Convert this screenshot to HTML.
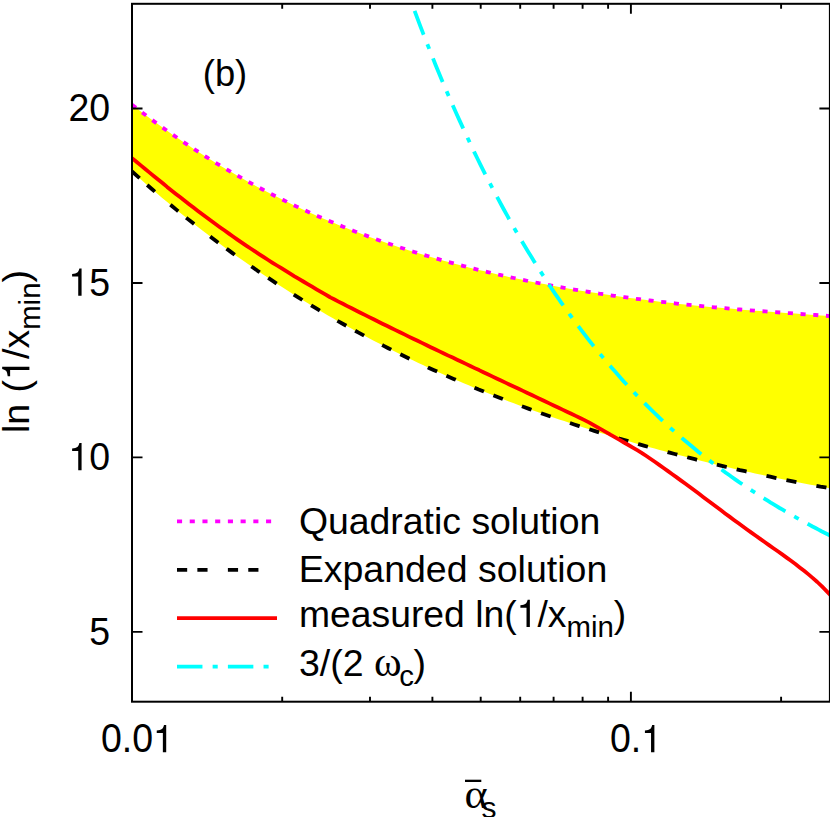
<!DOCTYPE html>
<html><head><meta charset="utf-8"><title>plot</title>
<style>
html,body{margin:0;padding:0;background:#fff;}
svg{display:block}
text{font-family:"Liberation Sans",sans-serif;font-size:37.5px;fill:#000}
.sub{font-size:29.4px}
.sym{font-family:"Liberation Serif",serif}
.one{fill:none}
</style></head><body>
<svg width="830" height="817" viewBox="0 0 830 817">
<rect width="830" height="817" fill="#fff"/>
<defs><clipPath id="cp"><rect x="132" y="3.8" width="697.9" height="697.9"/></clipPath></defs>
<g clip-path="url(#cp)" fill="none" stroke-linecap="butt" stroke-linejoin="round">
<path d="M132.0,104.8 L137.0,108.6 L142.1,112.5 L147.1,116.2 L152.1,120.0 L157.1,123.6 L162.2,127.3 L167.2,130.8 L172.2,134.4 L177.2,137.8 L182.3,141.3 L187.3,144.6 L192.3,148.0 L197.3,151.2 L202.4,154.5 L207.4,157.7 L212.4,160.8 L217.4,163.9 L222.5,166.9 L227.5,169.9 L232.5,172.8 L237.5,175.7 L242.6,178.6 L247.6,181.4 L252.6,184.2 L257.6,186.9 L262.7,189.5 L267.7,192.2 L272.7,194.8 L277.7,197.3 L282.8,199.8 L287.8,202.3 L292.8,204.7 L297.8,207.1 L302.9,209.4 L307.9,211.7 L312.9,214.0 L317.9,216.2 L323.0,218.4 L328.0,220.5 L333.0,222.6 L338.0,224.7 L343.1,226.7 L348.1,228.7 L353.1,230.7 L358.1,232.6 L363.2,234.5 L368.2,236.4 L373.2,238.2 L378.2,240.0 L383.3,241.8 L388.3,243.5 L393.3,245.2 L398.3,246.9 L403.4,248.5 L408.4,250.2 L413.4,251.7 L418.4,253.3 L423.5,254.8 L428.5,256.3 L433.5,257.8 L438.5,259.2 L443.6,260.7 L448.6,262.1 L453.6,263.4 L458.6,264.8 L463.7,266.1 L468.7,267.4 L473.7,268.7 L478.7,269.9 L483.8,271.1 L488.8,272.3 L493.8,273.5 L498.8,274.7 L503.9,275.8 L508.9,276.9 L513.9,278.0 L518.9,279.1 L524.0,280.1 L529.0,281.2 L534.0,282.2 L539.0,283.2 L544.1,284.1 L549.1,285.1 L554.1,286.0 L559.1,286.9 L564.2,287.8 L569.2,288.7 L574.2,289.6 L579.2,290.4 L584.3,291.2 L589.3,292.0 L594.3,292.8 L599.3,293.6 L604.4,294.3 L609.4,295.1 L614.4,295.8 L619.4,296.5 L624.5,297.2 L629.5,297.9 L634.5,298.6 L639.5,299.2 L644.6,299.8 L649.6,300.5 L654.6,301.1 L659.6,301.7 L664.7,302.2 L669.7,302.8 L674.7,303.3 L679.7,303.9 L684.8,304.4 L689.8,304.9 L694.8,305.4 L699.8,305.9 L704.9,306.4 L709.9,306.9 L714.9,307.3 L719.9,307.8 L725.0,308.2 L730.0,308.6 L735.0,309.1 L740.0,309.5 L745.1,309.9 L750.1,310.3 L755.1,310.7 L760.1,311.1 L765.2,311.4 L770.2,311.8 L775.2,312.2 L780.2,312.5 L785.3,312.9 L790.3,313.2 L795.3,313.6 L800.3,314.0 L805.4,314.3 L810.4,314.7 L815.4,315.0 L820.4,315.4 L825.5,315.7 L830.5,316.1 L830.5,488.3 L825.5,487.4 L820.4,486.6 L815.4,485.6 L810.4,484.7 L805.4,483.8 L800.3,482.8 L795.3,481.8 L790.3,480.8 L785.3,479.8 L780.2,478.8 L775.2,477.8 L770.2,476.7 L765.2,475.6 L760.1,474.5 L755.1,473.4 L750.1,472.3 L745.1,471.2 L740.0,470.1 L735.0,468.9 L730.0,467.7 L725.0,466.6 L719.9,465.4 L714.9,464.2 L709.9,462.9 L704.9,461.7 L699.8,460.5 L694.8,459.2 L689.8,457.9 L684.8,456.6 L679.7,455.3 L674.7,454.0 L669.7,452.7 L664.7,451.3 L659.6,450.0 L654.6,448.6 L649.6,447.2 L644.6,445.8 L639.5,444.4 L634.5,443.0 L629.5,441.5 L624.5,440.0 L619.4,438.6 L614.4,437.1 L609.4,435.6 L604.4,434.0 L599.3,432.5 L594.3,430.9 L589.3,429.3 L584.3,427.7 L579.2,426.1 L574.2,424.5 L569.2,422.8 L564.2,421.1 L559.1,419.5 L554.1,417.7 L549.1,416.0 L544.1,414.3 L539.0,412.5 L534.0,410.7 L529.0,408.9 L524.0,407.0 L518.9,405.2 L513.9,403.3 L508.9,401.4 L503.9,399.5 L498.8,397.5 L493.8,395.5 L488.8,393.6 L483.8,391.5 L478.7,389.5 L473.7,387.4 L468.7,385.3 L463.7,383.2 L458.6,381.1 L453.6,378.9 L448.6,376.7 L443.6,374.5 L438.5,372.2 L433.5,370.0 L428.5,367.7 L423.5,365.3 L418.4,363.0 L413.4,360.6 L408.4,358.2 L403.4,355.7 L398.3,353.2 L393.3,350.7 L388.3,348.2 L383.3,345.6 L378.2,343.0 L373.2,340.4 L368.2,337.8 L363.2,335.1 L358.1,332.4 L353.1,329.6 L348.1,326.8 L343.1,324.0 L338.0,321.2 L333.0,318.3 L328.0,315.4 L323.0,312.4 L317.9,309.4 L312.9,306.4 L307.9,303.3 L302.9,300.3 L297.8,297.1 L292.8,294.0 L287.8,290.8 L282.8,287.5 L277.7,284.3 L272.7,280.9 L267.7,277.6 L262.7,274.2 L257.6,270.8 L252.6,267.3 L247.6,263.8 L242.6,260.3 L237.5,256.7 L232.5,253.1 L227.5,249.4 L222.5,245.7 L217.4,242.0 L212.4,238.2 L207.4,234.3 L202.4,230.5 L197.3,226.6 L192.3,222.6 L187.3,218.6 L182.3,214.5 L177.2,210.4 L172.2,206.3 L167.2,202.1 L162.2,197.9 L157.1,193.6 L152.1,189.2 L147.1,184.9 L142.1,180.4 L137.0,175.9 L132.0,171.4Z" fill="#ffff00" stroke="none"/>
<path d="M132.0,104.8 L137.0,108.6 L142.1,112.5 L147.1,116.2 L152.1,120.0 L157.1,123.6 L162.2,127.3 L167.2,130.8 L172.2,134.4 L177.2,137.8 L182.3,141.3 L187.3,144.6 L192.3,148.0 L197.3,151.2 L202.4,154.5 L207.4,157.7 L212.4,160.8 L217.4,163.9 L222.5,166.9 L227.5,169.9 L232.5,172.8 L237.5,175.7 L242.6,178.6 L247.6,181.4 L252.6,184.2 L257.6,186.9 L262.7,189.5 L267.7,192.2 L272.7,194.8 L277.7,197.3 L282.8,199.8 L287.8,202.3 L292.8,204.7 L297.8,207.1 L302.9,209.4 L307.9,211.7 L312.9,214.0 L317.9,216.2 L323.0,218.4 L328.0,220.5 L333.0,222.6 L338.0,224.7 L343.1,226.7 L348.1,228.7 L353.1,230.7 L358.1,232.6 L363.2,234.5 L368.2,236.4 L373.2,238.2 L378.2,240.0 L383.3,241.8 L388.3,243.5 L393.3,245.2 L398.3,246.9 L403.4,248.5 L408.4,250.2 L413.4,251.7 L418.4,253.3 L423.5,254.8 L428.5,256.3 L433.5,257.8 L438.5,259.2 L443.6,260.7 L448.6,262.1 L453.6,263.4 L458.6,264.8 L463.7,266.1 L468.7,267.4 L473.7,268.7 L478.7,269.9 L483.8,271.1 L488.8,272.3 L493.8,273.5 L498.8,274.7 L503.9,275.8 L508.9,276.9 L513.9,278.0 L518.9,279.1 L524.0,280.1 L529.0,281.2 L534.0,282.2 L539.0,283.2 L544.1,284.1 L549.1,285.1 L554.1,286.0 L559.1,286.9 L564.2,287.8 L569.2,288.7 L574.2,289.6 L579.2,290.4 L584.3,291.2 L589.3,292.0 L594.3,292.8 L599.3,293.6 L604.4,294.3 L609.4,295.1 L614.4,295.8 L619.4,296.5 L624.5,297.2 L629.5,297.9 L634.5,298.6 L639.5,299.2 L644.6,299.8 L649.6,300.5 L654.6,301.1 L659.6,301.7 L664.7,302.2 L669.7,302.8 L674.7,303.3 L679.7,303.9 L684.8,304.4 L689.8,304.9 L694.8,305.4 L699.8,305.9 L704.9,306.4 L709.9,306.9 L714.9,307.3 L719.9,307.8 L725.0,308.2 L730.0,308.6 L735.0,309.1 L740.0,309.5 L745.1,309.9 L750.1,310.3 L755.1,310.7 L760.1,311.1 L765.2,311.4 L770.2,311.8 L775.2,312.2 L780.2,312.5 L785.3,312.9 L790.3,313.2 L795.3,313.6 L800.3,314.0 L805.4,314.3 L810.4,314.7 L815.4,315.0 L820.4,315.4 L825.5,315.7 L830.5,316.1" stroke="#ff00ff" stroke-width="3.8" stroke-dasharray="5.09 7.63"/>
<path d="M132.0,171.4 L137.0,175.9 L142.1,180.4 L147.1,184.9 L152.1,189.2 L157.1,193.6 L162.2,197.9 L167.2,202.1 L172.2,206.3 L177.2,210.4 L182.3,214.5 L187.3,218.6 L192.3,222.6 L197.3,226.6 L202.4,230.5 L207.4,234.3 L212.4,238.2 L217.4,242.0 L222.5,245.7 L227.5,249.4 L232.5,253.1 L237.5,256.7 L242.6,260.3 L247.6,263.8 L252.6,267.3 L257.6,270.8 L262.7,274.2 L267.7,277.6 L272.7,280.9 L277.7,284.3 L282.8,287.5 L287.8,290.8 L292.8,294.0 L297.8,297.1 L302.9,300.3 L307.9,303.3 L312.9,306.4 L317.9,309.4 L323.0,312.4 L328.0,315.4 L333.0,318.3 L338.0,321.2 L343.1,324.0 L348.1,326.8 L353.1,329.6 L358.1,332.4 L363.2,335.1 L368.2,337.8 L373.2,340.4 L378.2,343.0 L383.3,345.6 L388.3,348.2 L393.3,350.7 L398.3,353.2 L403.4,355.7 L408.4,358.2 L413.4,360.6 L418.4,363.0 L423.5,365.3 L428.5,367.7 L433.5,370.0 L438.5,372.2 L443.6,374.5 L448.6,376.7 L453.6,378.9 L458.6,381.1 L463.7,383.2 L468.7,385.3 L473.7,387.4 L478.7,389.5 L483.8,391.5 L488.8,393.6 L493.8,395.5 L498.8,397.5 L503.9,399.5 L508.9,401.4 L513.9,403.3 L518.9,405.2 L524.0,407.0 L529.0,408.9 L534.0,410.7 L539.0,412.5 L544.1,414.3 L549.1,416.0 L554.1,417.7 L559.1,419.5 L564.2,421.1 L569.2,422.8 L574.2,424.5 L579.2,426.1 L584.3,427.7 L589.3,429.3 L594.3,430.9 L599.3,432.5 L604.4,434.0 L609.4,435.6 L614.4,437.1 L619.4,438.6 L624.5,440.0 L629.5,441.5 L634.5,443.0 L639.5,444.4 L644.6,445.8 L649.6,447.2 L654.6,448.6 L659.6,450.0 L664.7,451.3 L669.7,452.7 L674.7,454.0 L679.7,455.3 L684.8,456.6 L689.8,457.9 L694.8,459.2 L699.8,460.5 L704.9,461.7 L709.9,462.9 L714.9,464.2 L719.9,465.4 L725.0,466.6 L730.0,467.7 L735.0,468.9 L740.0,470.1 L745.1,471.2 L750.1,472.3 L755.1,473.4 L760.1,474.5 L765.2,475.6 L770.2,476.7 L775.2,477.8 L780.2,478.8 L785.3,479.8 L790.3,480.8 L795.3,481.8 L800.3,482.8 L805.4,483.8 L810.4,484.7 L815.4,485.6 L820.4,486.6 L825.5,487.4 L830.5,488.3" stroke="#000" stroke-width="3.8" stroke-dasharray="10.18 10.18 10.18 20.36"/>
<path d="M132.0,158.1 L136.4,161.8 L140.8,165.4 L145.2,169.0 L149.6,172.6 L154.0,176.2 L158.4,179.8 L162.8,183.3 L167.1,186.9 L171.5,190.4 L175.9,193.9 L180.3,197.3 L184.7,200.8 L189.1,204.2 L193.5,207.6 L197.9,210.9 L202.3,214.2 L206.7,217.5 L211.1,220.8 L215.5,224.0 L219.9,227.2 L224.3,230.3 L228.6,233.4 L233.0,236.5 L237.4,239.6 L241.8,242.6 L246.2,245.6 L250.6,248.5 L255.0,251.4 L259.4,254.3 L263.8,257.2 L268.2,260.0 L272.6,262.8 L277.0,265.5 L281.4,268.2 L285.8,270.9 L290.2,273.6 L294.5,276.3 L298.9,278.9 L303.3,281.5 L307.7,284.1 L312.1,286.7 L316.5,289.3 L320.9,291.9 L325.3,294.4 L329.7,297.0 L330.8,297.6 L334.1,299.3 L338.5,301.6 L342.9,303.8 L347.3,306.1 L351.7,308.3 L356.0,310.5 L360.4,312.7 L364.8,314.9 L369.2,317.1 L373.6,319.3 L378.0,321.5 L382.4,323.7 L386.8,325.8 L391.2,328.0 L395.6,330.1 L400.0,332.3 L404.4,334.4 L408.8,336.6 L413.2,338.7 L417.6,340.8 L421.9,342.9 L426.3,345.0 L430.7,347.2 L435.1,349.3 L439.5,351.4 L443.9,353.5 L448.3,355.6 L452.7,357.6 L457.1,359.7 L461.5,361.8 L465.9,363.9 L470.3,366.0 L474.7,368.1 L479.1,370.1 L483.4,372.2 L487.8,374.3 L492.2,376.4 L496.6,378.4 L501.0,380.5 L505.4,382.6 L509.8,384.7 L514.2,386.7 L518.6,388.8 L523.0,390.9 L527.4,392.9 L531.8,395.0 L536.2,397.1 L540.6,399.2 L544.9,401.3 L549.3,403.4 L553.7,405.4 L558.1,407.5 L562.5,409.6 L566.9,411.7 L571.3,413.8 L575.7,415.9 L580.1,418.0 L584.5,420.1 L586.4,421.1 L588.9,422.4 L593.3,424.9 L597.7,427.4 L602.1,429.9 L606.5,432.3 L610.8,434.9 L615.2,437.4 L619.6,439.9 L624.0,442.5 L628.4,445.0 L632.8,447.6 L637.2,450.2 L641.6,452.8 L642.0,453.1 L646.0,455.8 L650.4,458.8 L654.8,461.8 L659.2,464.9 L663.6,468.0 L668.0,471.1 L672.3,474.2 L676.7,477.4 L681.1,480.6 L685.5,483.8 L689.9,487.1 L694.3,490.3 L698.7,493.6 L703.1,496.9 L707.5,500.2 L711.9,503.5 L716.3,506.8 L720.7,510.1 L725.1,513.4 L729.5,516.6 L733.9,519.9 L738.2,523.1 L742.6,526.3 L747.0,529.5 L751.4,532.6 L755.8,535.8 L760.2,538.9 L764.6,542.0 L769.0,545.1 L773.4,548.2 L777.8,551.3 L782.2,554.4 L786.6,557.6 L791.0,560.8 L795.4,564.0 L799.7,567.4 L804.1,570.8 L808.5,574.4 L812.9,578.1 L817.3,582.0 L821.7,586.2 L826.1,590.6 L830.5,595.2" stroke="#ff0000" stroke-width="3.8"/>
<path d="M414.6,10.9 L417.6,18.9 L420.6,26.8 L423.6,34.6 L426.6,42.3 L429.6,49.8 L432.6,57.3 L435.5,64.7 L438.5,72.0 L441.5,79.2 L444.5,86.3 L447.5,93.3 L450.5,100.2 L453.5,107.0 L456.5,113.7 L459.5,120.4 L462.5,126.9 L465.5,133.4 L468.5,139.8 L471.4,146.1 L474.4,152.3 L477.4,158.5 L480.4,164.6 L483.4,170.6 L486.4,176.5 L489.4,182.3 L492.4,188.1 L495.4,193.8 L498.4,199.4 L501.4,205.0 L504.4,210.5 L507.4,215.9 L510.3,221.2 L513.3,226.5 L516.3,231.7 L519.3,236.9 L522.3,242.0 L525.3,247.0 L528.3,251.9 L531.3,256.8 L534.3,261.7 L537.3,266.5 L540.3,271.2 L543.3,275.8 L546.3,280.4 L549.2,285.0 L552.2,289.4 L555.2,293.9 L558.2,298.2 L561.2,302.6 L564.2,306.8 L567.2,311.0 L570.2,315.2 L573.2,319.3 L576.2,323.3 L579.2,327.3 L582.2,331.3 L585.1,335.2 L588.1,339.1 L591.1,342.9 L594.1,346.6 L597.1,350.3 L600.1,354.0 L603.1,357.6 L606.1,361.2 L609.1,364.7 L612.1,368.2 L615.1,371.6 L618.1,375.0 L621.1,378.4 L624.0,381.7 L627.0,384.9 L630.0,388.2 L633.0,391.3 L636.0,394.5 L639.0,397.6 L642.0,400.7 L645.0,403.7 L648.0,406.7 L651.0,409.6 L654.0,412.5 L657.0,415.4 L660.0,418.3 L662.9,421.1 L665.9,423.8 L668.9,426.6 L671.9,429.3 L674.9,431.9 L677.9,434.6 L680.9,437.2 L683.9,439.8 L686.9,442.3 L689.9,444.8 L692.9,447.3 L695.9,449.7 L698.8,452.2 L701.8,454.6 L704.8,456.9 L707.8,459.2 L710.8,461.6 L713.8,463.8 L716.8,466.1 L719.8,468.3 L722.8,470.5 L725.8,472.7 L728.8,474.8 L731.8,477.0 L734.8,479.1 L737.7,481.1 L740.7,483.2 L743.7,485.2 L746.7,487.2 L749.7,489.2 L752.7,491.2 L755.7,493.1 L758.7,495.1 L761.7,497.0 L764.7,498.8 L767.7,500.7 L770.7,502.6 L773.7,504.4 L776.6,506.2 L779.6,508.0 L782.6,509.7 L785.6,511.5 L788.6,513.2 L791.6,514.9 L794.6,516.6 L797.6,518.3 L800.6,520.0 L803.6,521.6 L806.6,523.2 L809.6,524.9 L812.5,526.5 L815.5,528.0 L818.5,529.6 L821.5,531.2 L824.5,532.7 L827.5,534.2 L830.5,535.7" stroke="#00ffff" stroke-width="3.8" stroke-dasharray="25.45 10.18 5.09 10.18"/>
</g>
<g fill="none" stroke="#000" stroke-width="2">
<path d="M282.2,701.7 v-5 M282.2,3.8 v5 M370.0,701.7 v-5 M370.0,3.8 v5 M432.4,701.7 v-5 M432.4,3.8 v5 M480.7,701.7 v-5 M480.7,3.8 v5 M520.2,701.7 v-5 M520.2,3.8 v5 M553.6,701.7 v-5 M553.6,3.8 v5 M582.6,701.7 v-5 M582.6,3.8 v5 M608.1,701.7 v-5 M608.1,3.8 v5 M781.1,701.7 v-5 M781.1,3.8 v5 M132.0,701.7 v-10 M132.0,3.8 v10 M630.9,701.7 v-10 M630.9,3.8 v10 M132.0,631.9 h10.5 M829.9,631.9 h-10.5 M132.0,457.4 h10.5 M829.9,457.4 h-10.5 M132.0,283.0 h10.5 M829.9,283.0 h-10.5 M132.0,108.5 h10.5 M829.9,108.5 h-10.5" stroke-width="1.9"/>
<rect x="132" y="3.8" width="697.9" height="697.9"/>
</g>
<g fill="none" stroke-width="3.8">
<path d="M177,521.3 h100" stroke="#ff00ff" stroke-dasharray="5.09 7.63"/>
<path d="M177,569.8 h100" stroke="#000" stroke-dasharray="10.18 10.18 10.18 20.36"/>
<path d="M177,618.1 h100" stroke="#ff0000"/>
<path d="M177,666.7 h100" stroke="#00ffff" stroke-dasharray="25.45 10.18 5.09 10.18"/>
</g>
<g transform="translate(110.1,121.3) scale(1.0,1.055)"><text text-anchor="end">20</text></g>
<g transform="translate(110.1,295.8) scale(1.0,1.055)"><text text-anchor="end"><tspan class="one">1</tspan>5</text><path d="M259,0 L347,0 L347,709 L289,709 C258,598 237,583 98,565 L98,502 L259,502 Z" transform="translate(-41.71,0.00) scale(0.03800,-0.03640)"/></g>
<g transform="translate(110.1,470.2) scale(1.0,1.055)"><text text-anchor="end"><tspan class="one">1</tspan>0</text><path d="M259,0 L347,0 L347,709 L289,709 C258,598 237,583 98,565 L98,502 L259,502 Z" transform="translate(-41.71,0.00) scale(0.03800,-0.03640)"/></g>
<g transform="translate(110.1,644.7) scale(1.0,1.055)"><text text-anchor="end">5</text></g>
<g transform="translate(137.4,752.3) scale(1.0,1.065)"><text text-anchor="middle">0.0<tspan class="one">1</tspan></text><path d="M259,0 L347,0 L347,709 L289,709 C258,598 237,583 98,565 L98,502 L259,502 Z" transform="translate(15.62,0.00) scale(0.03800,-0.03606)"/></g>
<g transform="translate(636,752.3) scale(1.0,1.065)"><text text-anchor="middle">0.<tspan class="one">1</tspan></text><path d="M259,0 L347,0 L347,709 L289,709 C258,598 237,583 98,565 L98,502 L259,502 Z" transform="translate(5.20,0.00) scale(0.03800,-0.03606)"/></g>
<text transform="translate(225,86) scale(0.97,1)" text-anchor="middle">(b)</text>
<text x="298.9" y="533.5" style="font-size:37.4px">Quadratic solution</text>
<text x="298.7" y="581.8">Expanded solution</text>
<g transform="translate(299,627)"><text style="font-size:37.3px">measured ln(<tspan class="one">1</tspan>/x<tspan class="sub" dy="10">min</tspan><tspan dy="-10">)</tspan></text><path d="M259,0 L347,0 L347,709 L289,709 C258,598 237,583 98,565 L98,502 L259,502 Z" transform="translate(217.67,0.00) scale(0.03800,-0.03840)"/></g>
<text x="299" y="675.7">3/(2 <tspan class="sym" style="font-size:42px">ω</tspan><tspan class="sub" dy="10" dx="-2.5">c</tspan><tspan dy="-10" dx="-0.3">)</tspan></text>
<g transform="translate(29.4,433) rotate(-90)"><text>ln <tspan dx="1">(<tspan class="one">1</tspan>/x</tspan><tspan class="sub" dy="10.8">min</tspan><tspan dy="-10.8">)</tspan></text><path d="M259,0 L347,0 L347,709 L289,709 C258,598 237,583 98,565 L98,502 L259,502 Z" transform="translate(53.11,0.00) scale(0.03800,-0.03840)"/></g>
<g>
<rect x="465" y="779.7" width="16.3" height="2.3" fill="#000"/>
<text class="sym" transform="translate(464.6,808) scale(1.08,1)" style="font-size:41px">α</text>
<text class="sub" x="481.5" y="818" style="font-size:30px">s</text>
</g>
</svg>
</body></html>
